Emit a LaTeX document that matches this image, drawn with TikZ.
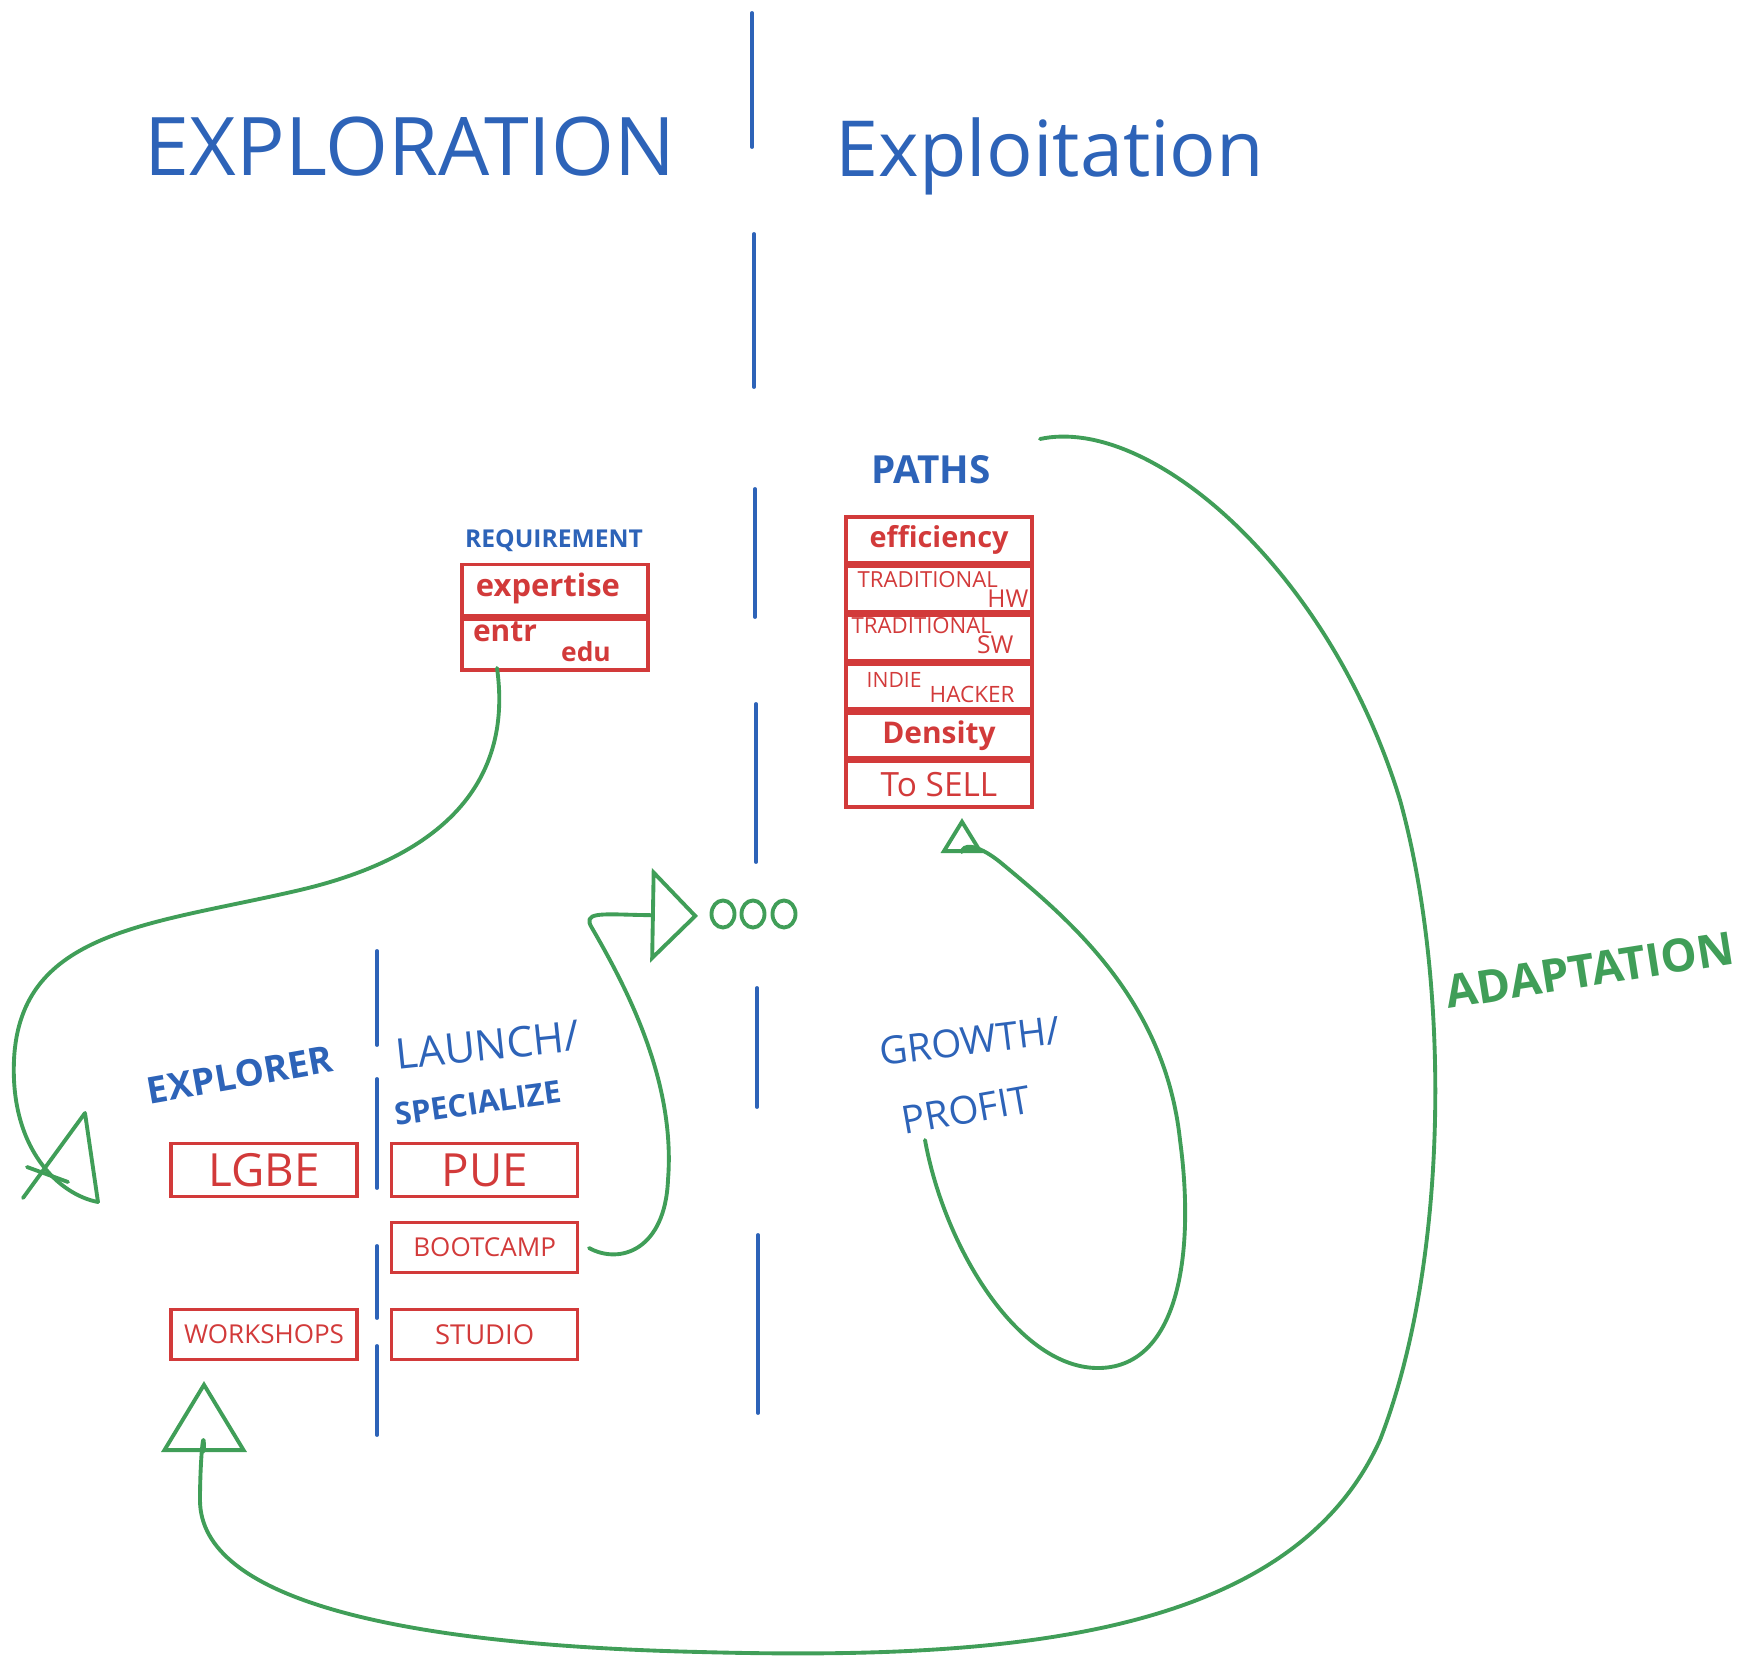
\documentclass[tikz,border=0pt]{standalone}
\usepackage{fontspec}
\setmainfont{Open Sans}
\usepackage{tikz}
\usetikzlibrary{arrows.meta,positioning,shapes.geometric}
\definecolor{SketchBlue}{HTML}{2D63B8}
\definecolor{SketchRed}{HTML}{D23A3A}
\definecolor{SketchGreen}{HTML}{409E58}
\newcommand{\penfont}[1]{\fontsize{#1}{#1}\selectfont}
\tikzset{
  divider/.style={SketchBlue,line width=1.1pt,line cap=round},
  flow/.style={SketchGreen,line width=1.1pt,line cap=round,line join=round},
  cell/.style={draw=SketchRed,line width=1pt,text=SketchRed,minimum width=1.86cm,inner sep=0pt},
  hand/.style={text=SketchBlue,inner sep=0pt},
  tag/.style={hand,font=\bfseries},
  note/.style={text=SketchRed,inner sep=0pt},
  dot/.style={ellipse,draw=SketchGreen,line width=1.1pt,minimum width=0.23cm,minimum height=0.27cm,inner sep=0pt}
}
\begin{document}
\begin{tikzpicture}[x=0.01cm,y=-0.01cm]
\useasboundingbox (0,0) rectangle (1744,1663);
% dashed middle line and the short one on the left
\foreach \xa/\ya/\yb in {752/13/147,754/234/387,755/489/617,756/704/862,757/988/1107,758/1235/1413,
    377/951/1045,377/1079/1188,377/1246/1318,377/1346/1435}
  \draw[divider] (\xa,\ya) -- (\xa,\yb);

% headings
\node[hand,anchor=base,font=\penfont{23}] (explo) at (410,175) {EXPLORATION};
\node[hand,anchor=base,font=\penfont{22}] (exploit) at (1050,176) {Exploitation};

% requirement
\node[tag,font=\bfseries\penfont{7}] (req) at (554,541) {REQUIREMENT};
\node[cell,minimum height=0.51cm] (expert) at (555,590) {};
\node[cell,minimum height=0.51cm,below=0pt of expert] (entredu) {};
\node[note,font=\bfseries\penfont{8.8}] (experttxt) at (548,588) {expertise};
\node[note,font=\bfseries\penfont{8.5}] (entr) at (505,632) {entr};
\node[note,font=\bfseries\penfont{7.5}] (edu) at (586,652) {edu};

% paths
\node[tag,font=\bfseries\penfont{11}] (paths) at (931,470) {PATHS};
\node[cell,minimum height=0.454cm,font=\bfseries\penfont{8.2}] (eff) at (939,539.7) {efficiency};
\node[cell,minimum height=0.454cm,below=0pt of eff] (hw) {};
\node[cell,minimum height=0.454cm,below=0pt of hw] (sw) {};
\node[cell,minimum height=0.454cm,below=0pt of sw] (indie) {};
\node[cell,minimum height=0.454cm,below=0pt of indie,font=\bfseries\penfont{8.5}] (dens) {Density};
\node[cell,minimum height=0.454cm,below=0pt of dens,font=\penfont{9.5}] (sell) {To SELL};
\node[note,anchor=west,font=\penfont{6.3}] (hwa) at (857,580) {TRADITIONAL};
\node[note,anchor=east,font=\penfont{7}] (hwb) at (1029,599) {HW};
\node[note,anchor=west,font=\penfont{6.3}] (swa) at (851,626) {TRADITIONAL};
\node[note,anchor=east,font=\penfont{7}] (swb) at (1014,645) {SW};
\node[note,anchor=west,font=\penfont{6}] (inda) at (866,680) {INDIE};
\node[note,anchor=west,font=\penfont{6.4}] (indb) at (929,694) {HACKER};

% bottom left
\node[hand,rotate=10,font=\bfseries\penfont{10.5}] (explorer) at (240,1075) {EXPLORER};
\node[hand,rotate=6,font=\penfont{12}] (launch) at (488,1045) {LAUNCH/};
\node[tag,rotate=8,font=\bfseries\penfont{8.8}] (spec) at (478,1103) {SPECIALIZE};
\node[cell,minimum height=0.53cm,font=\penfont{13}] (lgbe) at (264,1170) {LGBE};
\node[cell,minimum height=0.53cm,font=\penfont{13},right=0.31cm of lgbe] (pue) {PUE};
\node[cell,minimum height=0.5cm,font=\penfont{7.4},below=0.225cm of pue] (boot) {BOOTCAMP};
\node[cell,minimum height=0.5cm,font=\penfont{7.8},below=0.335cm of boot] (studio) {STUDIO};
\node[cell,minimum height=0.5cm,font=\penfont{7.4},left=0.31cm of studio] (ws) {WORKSHOPS};

% right side labels
\node[hand,rotate=7,font=\penfont{11}] (growth) at (970,1041) {GROWTH/};
\node[hand,rotate=10,font=\penfont{11}] (profit) at (966,1110) {PROFIT};
\node[text=SketchGreen,inner sep=0pt,rotate=9,font=\bfseries\penfont{13}] (adapt) at (1590,970) {ADAPTATION};

% ooo
\foreach \i/\x in {1/723,2/753,3/784}
  \node[dot] (o\i) at (\x,914) {};

% green loops
\coordinate (reqS) at (497,668);
\coordinate (reqT) at (98,1202);
\coordinate (bootS) at (589,1248);
\coordinate (oooT) at (698,916);
\coordinate (gpS) at (925,1140);
\coordinate (pathT) at (962,818);
\coordinate (adaS) at (1040,439);
\coordinate (wsT) at (204,1381);

\draw[flow] (reqS) .. controls (510,760) and (470,850) .. (300,890)
  .. controls (150,925) and (20,930) .. (14,1060)
  .. controls (10,1150) and (60,1195) .. (reqT);
\draw[flow] (reqT) -- (85,1113) -- (23,1198);
\draw[flow] (27,1167) -- (68,1182);

\draw[flow,-{Triangle[open,length=0.47cm,width=0.94cm]}] (bootS)
  .. controls (620,1265) and (665,1250) .. (668,1180)
  .. controls (676,1080) and (625,985) .. (592,928)
  .. controls (582,912) and (600,914) .. (640,915) -- (oooT);

\draw[flow,-{Triangle[open,length=0.35cm,width=0.42cm]}] (gpS)
  .. controls (945,1250) and (1020,1370) .. (1100,1368)
  .. controls (1180,1366) and (1195,1250) .. (1180,1140)
  .. controls (1165,1000) and (1070,920) .. (1000,862)
  .. controls (975,842) and (962,845) .. (pathT);

\draw[flow,-{Triangle[open,length=0.71cm,width=0.85cm]}] (adaS)
  .. controls (1150,415) and (1330,570) .. (1400,800)
  .. controls (1450,980) and (1450,1260) .. (1380,1440)
  .. controls (1290,1640) and (1000,1660) .. (700,1652)
  .. controls (400,1645) and (200,1600) .. (200,1500)
  .. controls (200,1460) and (204,1420) .. (wsT);
\end{tikzpicture}
\end{document}
